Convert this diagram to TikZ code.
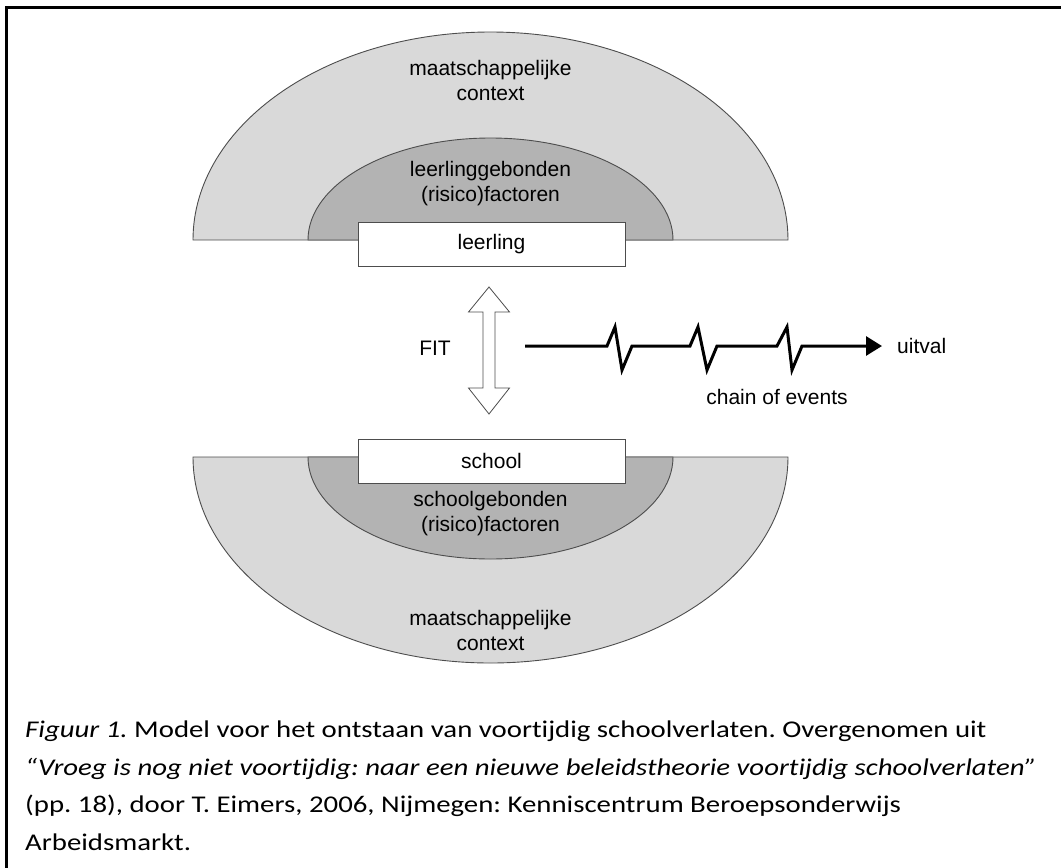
\documentclass[tikz,border=0pt]{standalone}
\usepackage{fontspec}
\setmainfont{Liberation Sans}
\newfontfamily\capfont[Ligatures=NoCommon, FakeStretch=1.2]{Carlito}
\usetikzlibrary{arrows.meta}
\definecolor{lightg}{HTML}{D9D9D9}
\definecolor{darkg}{HTML}{B3B3B3}
\definecolor{outl}{HTML}{4D4D4D}
\tikzset{
  band/.style={draw=outl, line width=0.9pt},
  boxnode/.style={draw=outl, fill=white, line width=0.9pt, minimum width=267pt, minimum height=44pt, inner sep=0pt, font=\fontsize{21}{25}\selectfont},
  lbl/.style={align=center, inner sep=0pt, font=\fontsize{21}{25}\selectfont},
  captext/.style={anchor=base west, inner sep=0pt, font=\capfont\fontsize{24}{30}\selectfont\frenchspacing},
  chainline/.style={line width=3pt, line join=miter, -{Triangle[length=16pt,width=19pt]}}
}
\begin{document}
\begin{tikzpicture}[x=1pt,y=-1pt]
\useasboundingbox (0,0) rectangle (1061,868);
% frame
\draw[line width=3pt] (6.5,875) -- (6.5,7.5) -- (1070,7.5);
% upper half-ellipses
\draw[band, fill=lightg] (193,240) arc[start angle=180, end angle=360, x radius=297.5, y radius=208] -- cycle;
\draw[band, fill=darkg] (308,240) arc[start angle=180, end angle=360, x radius=182.5, y radius=102] -- cycle;
% lower half-ellipses
\draw[band, fill=lightg] (193,457) arc[start angle=180, end angle=0, x radius=297.5, y radius=206] -- cycle;
\draw[band, fill=darkg] (308,457) arc[start angle=180, end angle=0, x radius=182.5, y radius=102] -- cycle;
% texts in bands
\node[lbl] (mc1) at (490.5,80) {maatschappelijke\\context};
\node[lbl] (lg) at (490.5,184) {leerlinggebonden\\(risico)factoren};
\node[lbl] (sg) at (490.5,514) {schoolgebonden\\(risico)factoren};
\node[lbl] (mc2) at (490.5,630) {maatschappelijke\\context};
% boxes
\node[boxnode] (leerling) at (491.5,244) {leerling};
\node[boxnode] (school) at (491.5,461) {school};
% double arrow (FIT)
\draw[draw=outl, fill=white, line width=0.8pt]
  (489,287) -- (509.5,312) -- (495,312) -- (495,388) -- (509.5,388) -- (489,414)
  -- (468.5,388) -- (483,388) -- (483,312) -- (468.5,312) -- cycle;
\node[lbl] (fit) at (435,348) {FIT};
% chain of events
\coordinate (start) at (525,346);
\node[lbl, anchor=west] (uitval) at (897,346) {uitval};
\coordinate (tip) at ([xshift=-15pt]uitval.west);
\draw[chainline] (start) -- (607,346) -- (615,327) -- (622,370) -- (632,346)
  -- (690,346) -- (698,327) -- (707,370) -- (717,346)
  -- (777,346) -- (787,327) -- (792,370) -- (802,346) -- (tip);
\node[lbl] (coe) at (777,397) {chain of events};
% caption
\node[captext] (c1) at (25,737) {\itshape Figuur 1.\upshape{} Model voor het ontstaan van voortijdig schoolverlaten. Overgenomen uit};
\node[captext] (c2) at (25,775) {\itshape “Vroeg is nog niet voortijdig: naar een nieuwe beleidstheorie voortijdig schoolverlaten”};
\node[captext] (c3) at (25,812.5) {(pp. 18), door T. Eimers, 2006, Nijmegen: Kenniscentrum Beroepsonderwijs};
\node[captext] (c4) at (25,850) {Arbeidsmarkt.};
\end{tikzpicture}
\end{document}
